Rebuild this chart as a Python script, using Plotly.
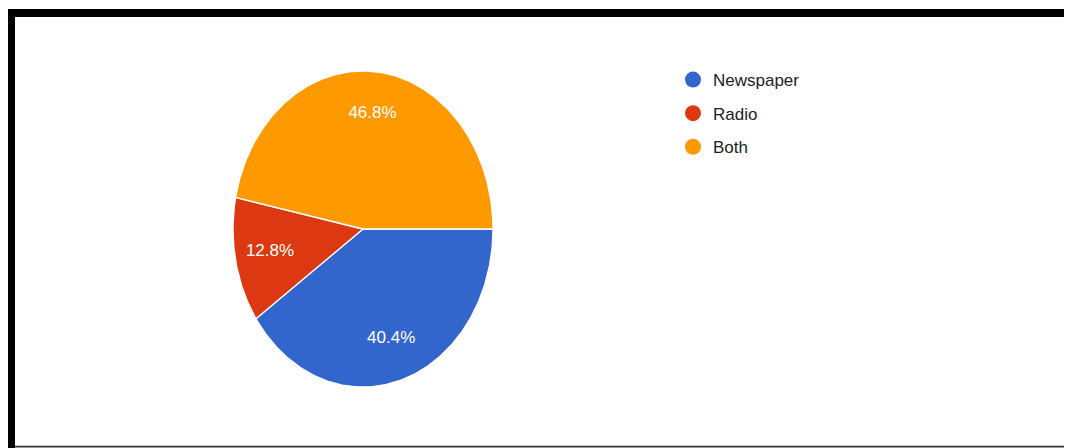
import numpy as np
import plotly.graph_objects as go

# ---- data ----
categories = ["Newspaper", "Radio", "Both"]
values = [40.4, 12.8, 46.8]
colors = ["#3366cc", "#dc3912", "#ff9900"]

# ---- layout constants (pixels, figure coordinates; page has an 8px body margin) ----
OFF = 8
W, H = 1072 - OFF, 448 - OFF
CX, CY = 363 - OFF, 229 - OFF   # pie centre
RX, RY = 130, 158               # pie radii (stretched ellipse)
LABEL_R = 0.73
FONT = "Liberation Sans, Arial, sans-serif"

fig = go.Figure()
total = sum(values)
start = 0.0
for cat, val, col in zip(categories, values, colors):
    frac = val / total
    a0, a1 = start, start + frac * 2 * np.pi
    th = np.linspace(a0, a1, max(int(frac * 500), 10))
    xs = np.concatenate([[0], np.cos(-th), [0]])
    ys = np.concatenate([[0], np.sin(-th), [0]])
    fig.add_trace(go.Scatter(
        x=xs, y=ys, fill="toself", fillcolor=col, mode="lines",
        line=dict(color="white", width=1.3), showlegend=False, hoverinfo="skip"))
    mid = (a0 + a1) / 2
    fig.add_trace(go.Scatter(
        x=[LABEL_R * np.cos(-mid)], y=[LABEL_R * np.sin(-mid)], mode="text",
        text=[f"{val:.1f}%"], textposition="middle center",
        textfont=dict(color="white", size=17, family=FONT),
        showlegend=False, hoverinfo="skip"))
    start = a1

for cat, col in zip(categories, colors):
    fig.add_trace(go.Scatter(
        x=[None], y=[None], mode="markers", name=cat, legendgroup=cat,
        marker=dict(color=col, size=16, symbol="circle")))

fig.update_layout(
    width=W, height=H,
    margin=dict(l=0, r=0, t=0, b=0),
    paper_bgcolor="white", plot_bgcolor="white",
    xaxis=dict(range=[-CX / RX, (W - CX) / RX], visible=False, fixedrange=True),
    yaxis=dict(range=[-(H - CY) / RY, CY / RY], visible=False, fixedrange=True),
    showlegend=True,
    legend=dict(x=(673 - OFF) / W, y=1 - (62 - OFF) / H, xanchor="left", yanchor="top",
                font=dict(size=17, color="#222222", family=FONT),
                bgcolor="rgba(0,0,0,0)", tracegroupgap=8.5, itemsizing="trace"),
    shapes=[
        dict(type="rect", xref="paper", yref="paper", x0=0, x1=1,
             y0=1 - (17 - OFF) / H, y1=1 - (9 - OFF) / H,
             fillcolor="black", line=dict(width=0)),
        dict(type="rect", xref="paper", yref="paper", x0=0, x1=(15 - OFF) / W,
             y0=0, y1=1 - (9 - OFF) / H,
             fillcolor="black", line=dict(width=0)),
        dict(type="rect", xref="paper", yref="paper", x0=(15 - OFF) / W, x1=1,
             y0=(448 - 447.5) / H, y1=(448 - 445.8) / H,
             fillcolor="#333333", line=dict(width=0)),
    ],
)

fig.write_html("out.html")
